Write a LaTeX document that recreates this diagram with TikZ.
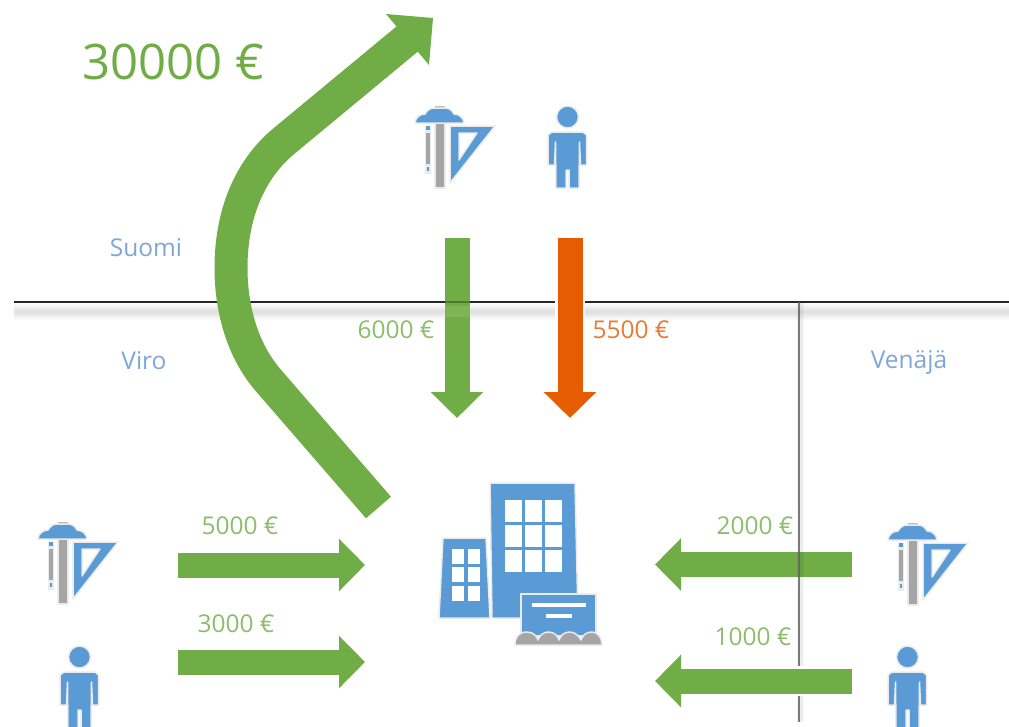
\documentclass[tikz,border=0pt]{standalone}
\usepackage{fontspec}
\setmainfont{Open Sans}
\usetikzlibrary{arrows.meta}
\definecolor{gr}{HTML}{70AD47}
\definecolor{og}{HTML}{E65C00}
\definecolor{bl}{HTML}{5B9BD5}
\definecolor{gy}{HTML}{A5A5A5}
\definecolor{lab}{HTML}{7FA6D6}
\definecolor{tg}{HTML}{8CBD6B}
\definecolor{to}{HTML}{E87A33}
\tikzset{
 x=1pt,y=-1pt,
 halo/.style={draw=black!8,line width=1.5pt,line join=round},
 iconb/.style={fill=bl,halo},
 icong/.style={fill=gy,halo},
 iconw/.style={fill=white,draw=none},
 flowg/.style={draw=gr,line width=25pt,-{Triangle[length=26pt,width=51pt,fill=gr]}},
 flowo/.style={draw=og,line width=25pt,-{Triangle[length=26pt,width=51pt,fill=og]}},
 flowh/.style={draw=white,line width=30pt,shorten >=-3pt,shorten <=-2pt,-{Triangle[length=31pt,width=60pt,fill=white]}},
 tl/.style={text=tg,font=\fontsize{24.5}{24.5}\selectfont,inner sep=0pt},
 ol/.style={text=to,font=\fontsize{24.5}{24.5}\selectfont,inner sep=0pt},
 cl/.style={text=lab,font=\fontsize{24.5}{24.5}\selectfont,inner sep=0pt},
 tools/.pic={
  \path[icong] (20,17) rectangle (30,82);
  \path[fill=black!8,draw=none] (10,20) rectangle (16,68);
  \path[fill=gy,draw=none] (11,27) rectangle (15,58);
  \path[fill=bl,draw=none] (11,20) rectangle (15,24);
  \path[fill=bl,draw=none] (12,61) rectangle (14,65);
  \path[fill=black!25,draw=none] (20,0) rectangle (30,4);
  \path[iconb] (0,17) .. controls (0,12) and (5,8) .. (10,8) .. controls (13,3) and (16,2) .. (20,2) -- (30,2) .. controls (34,2) and (37,4) .. (39,8) .. controls (44,8) and (49,12) .. (49,17) -- cycle;
  \path[iconb,even odd rule] (35,20) -- (80,20) -- (35,77) -- cycle (44,27) -- (44,54) -- (62,27) -- cycle;
 },
 person/.pic={
  \path[iconb] (19.5,10) circle (11);
  \path[iconb] (4,25) -- (35,25) -- (38.5,28) -- (38.5,58) -- (32.5,58) -- (31.5,35) -- (31,81) -- (21,81) -- (21,63) -- (18,63) -- (18,81) -- (8,81) -- (7.5,35) -- (6.5,58) -- (0,58) -- (0,28) -- cycle;
 },
}
\begin{document}
\begin{tikzpicture}
\useasboundingbox (0,0) rectangle (1009,726);
\clip (0,0) rectangle (1009,726);
% coordinates
\coordinate (hlL) at (14,302); \coordinate (hlR) at (1009,302);
\coordinate (vlT) at (799,302); \coordinate (vlB) at (799,722);
\coordinate (a1s) at (457,238); \coordinate (a1e) at (457,418);
\coordinate (a2s) at (570,238); \coordinate (a2e) at (570,418);
\coordinate (a3s) at (178,565); \coordinate (a3e) at (365,565);
\coordinate (a4s) at (178,662); \coordinate (a4e) at (365,662);
\coordinate (a5s) at (852,564.5); \coordinate (a5e) at (655,564.5);
\coordinate (a6s) at (852,681); \coordinate (a6e) at (655,681);
\coordinate (b0) at (378.5,507.5); \coordinate (b1) at (268,380);
\coordinate (b2) at (231,268); \coordinate (b3) at (284,141);
\coordinate (b4) at (412,35);
\coordinate (t1) at (386,14); \coordinate (t2) at (433,18); \coordinate (t3) at (429,65);
% shadow of horizontal line
\foreach \w/\o in {16/.025,12/.03,8/.03,4/.03}
  \draw[line width=\w pt,black,opacity=\o] ([yshift=-9.5pt]hlL) -- ([yshift=-9.5pt]hlR);
\draw[line width=1.3pt,black!85] (hlL) -- (hlR);
% arrows
\draw[flowh] (a2s) -- (a2e);
\draw[flowg] (a1s) -- (a1e);
\draw[flowo] (a2s) -- (a2e);
\draw[flowg] (a3s) -- (a3e);
\draw[flowg] (a4s) -- (a4e);
\draw[flowg] (a5s) -- (a5e);
\draw[black,opacity=.3,line width=1.2pt] (hlL -| a1s) ++(-12.5,0) -- ++(25,0);
\fill[white,opacity=.1] (444.5,306) rectangle (469.5,317);
% big arrow
\draw[gr,line width=33pt] (b0) -- (b1) .. controls (243,351) and (231,310) .. (b2) .. controls (231,215) and (249,170) .. (b3) -- (b4);
\fill[gr] (t1) -- (t2) -- (t3) -- cycle;
% vertical line
\foreach \w/\o in {7/.03,5/.04}
  \draw[line width=\w pt,black,opacity=\o] ([xshift=1pt]vlT) -- ([xshift=1pt]vlB);
\draw[line width=1.8pt,black!60,opacity=.85] (vlT) -- (vlB);
% arrow above the vertical line
\draw[flowh] (a6s) -- (a6e);
\draw[flowg] (a6s) -- (a6e);
% building
\path[iconb] (490,483) -- (575,483) -- (578,618) -- (492,618) -- cycle;
\foreach \xx in {505,525,545} \foreach \yy in {500,525,550}
  \path[iconw] (\xx,\yy) rectangle ++(16.5,21.5);
\path[iconb] (443,538) -- (486,538) -- (490,618) -- (439,618) -- cycle;
\foreach \xx in {452,468} \foreach \yy in {549,567,586}
  \path[iconw] (\xx,\yy) rectangle ++(12,14.5);
\path[iconb] (521,594) -- (596,594) -- (596,636) -- (521,636) -- cycle;
\path[iconw] (532,603) rectangle (586,607);
\path[iconw] (546,614) rectangle (572,618);
\path[icong] (515,645) .. controls (515,638) and (518,632) .. (527,632) .. controls (534,632) and (537,637) .. (538,640) .. controls (540,635) and (543,632) .. (549,632) .. controls (555,632) and (558,637) .. (559,640) .. controls (561,635) and (564,632) .. (570,632) .. controls (576,632) and (579,637) .. (581,640) .. controls (583,635) and (586,632) .. (592,632) .. controls (598,632) and (602,638) .. (602,645) -- cycle;
% icons
\pic at (415,106) {tools};
\pic at (38,522) {tools};
\pic at (888,523) {tools};
\pic at (548,107) {person};
\pic at (60,647) {person};
\pic at (888,647) {person};
% texts
\node[text=gr,font=\fontsize{49}{49}\selectfont,inner sep=0pt,anchor=west] (total) at (82,62) {30000 €};
\node[cl] (suomi) at (146,248) {Suomi};
\node[cl] (viro) at (144,361) {Viro};
\node[cl] (venaja) at (909,362) {Venäjä};
\node[tl] (l6000) at (396,330) {6000 €};
\node[ol] (l5500) at (631,330) {5500 €};
\node[tl] (l5000) at (240,526) {5000 €};
\node[tl] (l3000) at (236,624) {3000 €};
\node[tl] (l2000) at (755,526) {2000 €};
\node[tl] (l1000) at (753,637) {1000 €};
\end{tikzpicture}
\end{document}
